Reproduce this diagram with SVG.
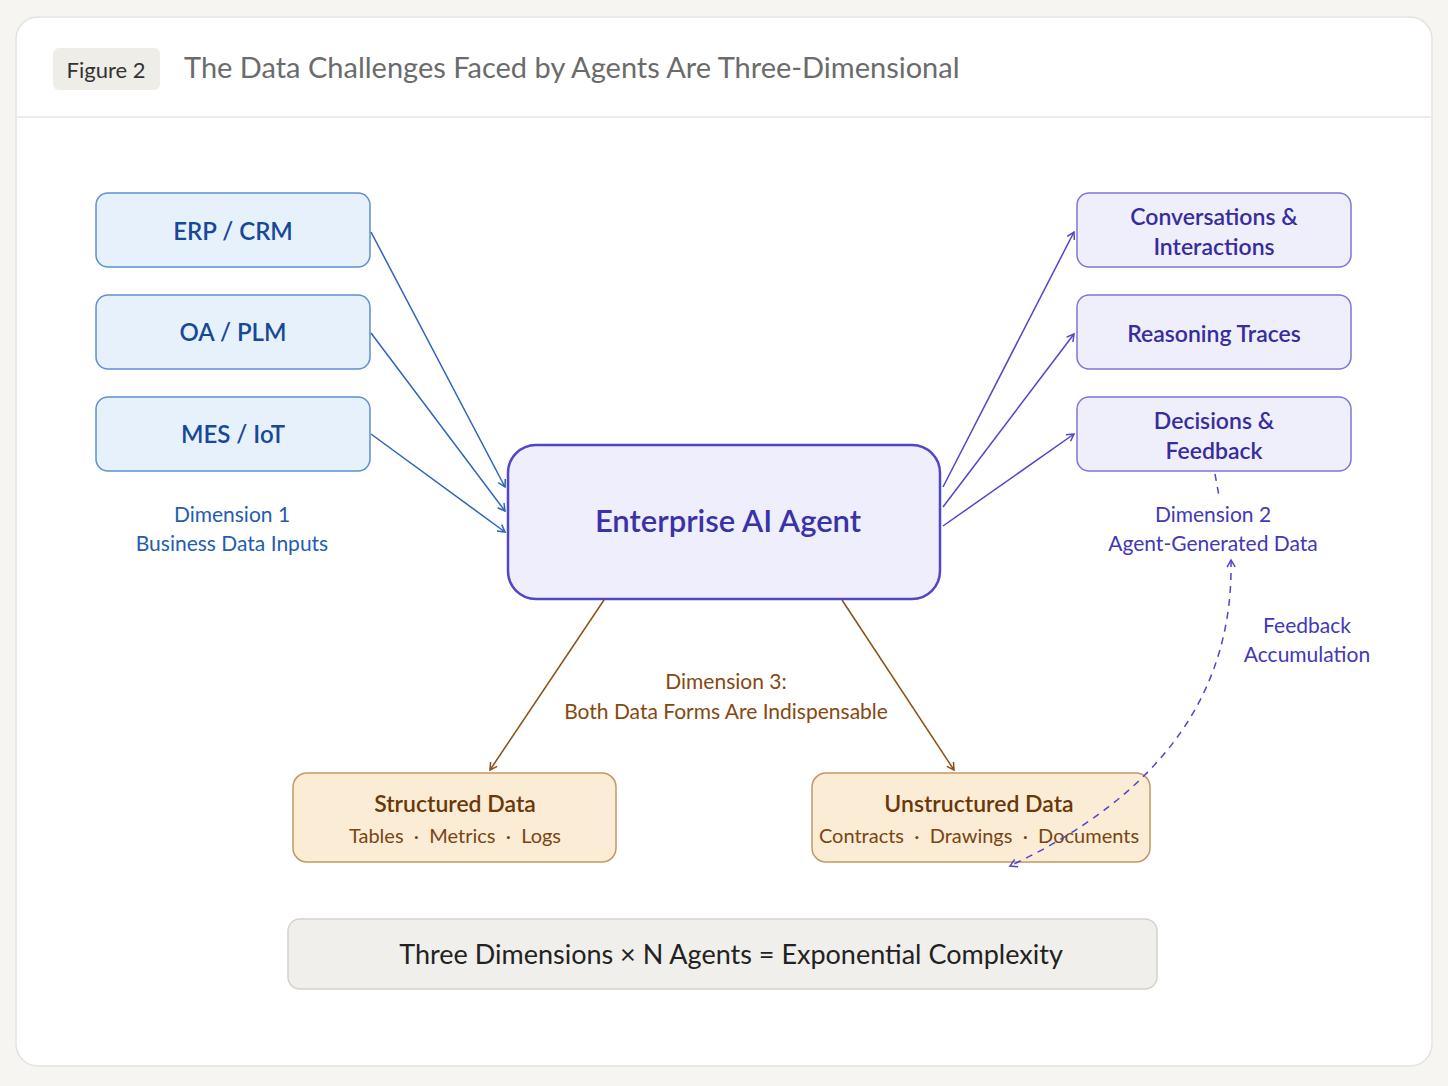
<svg xmlns="http://www.w3.org/2000/svg" width="1448" height="1086" viewBox="0 0 1448 1086">
<defs>
<style>
text{font-family:Lato,"Open Sans","Liberation Sans",sans-serif;text-anchor:middle}
.lbox{fill:#e7f1fb;stroke:#5d8fd4;stroke-width:1.5}
.rbox{fill:#efeefb;stroke:#7d76d8;stroke-width:1.5}
.obox{fill:#fbecd6;stroke:#c39866;stroke-width:1.5}
.lt{fill:#17489a;font-size:24px;font-weight:600}
.rt{fill:#372d9e;font-size:23px;font-weight:600}
.d1{fill:#1f5db0;font-size:21px}
.d2{fill:#4238b8;font-size:21px}
.d3{fill:#864810;font-size:21px}
.sub{font-size:20px;fill:#7a4512;white-space:pre}
.blue{stroke:#2d63b8;stroke-width:1.5;fill:none}
.purp{stroke:#5046c8;stroke-width:1.5;fill:none}
.brown{stroke:#8a5016;stroke-width:1.5;fill:none}
</style>
<marker id="ab" markerWidth="12" markerHeight="12" refX="9" refY="6" orient="auto" markerUnits="userSpaceOnUse"><path d="M2,2 L9,6 L2,10" fill="none" stroke="#2d63b8" stroke-width="1.5"/></marker>
<marker id="ap" markerWidth="12" markerHeight="12" refX="9" refY="6" orient="auto-start-reverse" markerUnits="userSpaceOnUse"><path d="M2,2 L9,6 L2,10" fill="none" stroke="#5046c8" stroke-width="1.5"/></marker>
<marker id="ao" markerWidth="12" markerHeight="12" refX="9" refY="6" orient="auto" markerUnits="userSpaceOnUse"><path d="M2,2 L9,6 L2,10" fill="none" stroke="#8a5016" stroke-width="1.5"/></marker>
</defs>
<rect x="0" y="0" width="1448" height="1086" fill="#f6f5f2"/>
<rect x="16" y="17" width="1416" height="1049" rx="22" fill="#ffffff" stroke="#e5e3de" stroke-width="1.5"/>
<line x1="17" y1="117" x2="1431" y2="117" stroke="#e8e6e1" stroke-width="1.5"/>
<g id="header">
<rect x="53" y="48" width="107" height="42" rx="6" fill="#efede8"/>
<text x="106" y="78" style="font-size:22px;fill:#333333">Figure 2</text>
<text x="184" y="78" style="font-size:29px;fill:#6b6b6b;text-anchor:start">The Data Challenges Faced by Agents Are Three-Dimensional</text>
</g>
<g id="erp"><rect class="lbox" x="96" y="193" width="274" height="74" rx="12"/><text class="lt" x="233" y="240">ERP / CRM</text></g>
<g id="oa"><rect class="lbox" x="96" y="295" width="274" height="74" rx="12"/><text class="lt" x="233" y="341">OA / PLM</text></g>
<g id="mes"><rect class="lbox" x="96" y="397" width="274" height="74" rx="12"/><text class="lt" x="233" y="443">MES / IoT</text></g>
<g id="dim1"><text class="d1" x="232" y="522">Dimension 1</text><text class="d1" x="232" y="551">Business Data Inputs</text></g>
<g id="agent"><rect x="508" y="445" width="432" height="154" rx="28" fill="#eeeefc" stroke="#5046c8" stroke-width="2.5"/><text x="728" y="532" style="font-size:31px;fill:#3a32a8;font-weight:600">Enterprise AI Agent</text></g>
<g id="conv"><rect class="rbox" x="1077" y="193" width="274" height="74" rx="12"/><text class="rt" x="1214" y="225">Conversations &amp;</text><text class="rt" x="1214" y="255">Interactions</text></g>
<g id="reason"><rect class="rbox" x="1077" y="295" width="274" height="74" rx="12"/><text class="rt" x="1214" y="342">Reasoning Traces</text></g>
<g id="decis"><rect class="rbox" x="1077" y="397" width="274" height="74" rx="12"/><text class="rt" x="1214" y="429">Decisions &amp;</text><text class="rt" x="1214" y="459">Feedback</text></g>
<g id="dim2"><text class="d2" x="1213" y="522">Dimension 2</text><text class="d2" x="1213" y="551">Agent-Generated Data</text></g>
<g id="feedback"><text class="d2" x="1307" y="633">Feedback</text><text class="d2" x="1307" y="662">Accumulation</text></g>
<g id="dim3"><text class="d3" x="726" y="689">Dimension 3:</text><text class="d3" x="726" y="719">Both Data Forms Are Indispensable</text></g>
<g id="structured"><rect class="obox" x="293" y="773" width="323" height="89" rx="14"/><text x="455" y="812" style="font-size:23px;fill:#6a3808;font-weight:600">Structured Data</text><text class="sub" x="455" y="843">Tables  ·  Metrics  ·  Logs</text></g>
<g id="unstructured"><rect class="obox" x="812" y="773" width="338" height="89" rx="14"/><text x="979" y="812" style="font-size:23px;fill:#6a3808;font-weight:600">Unstructured Data</text><text class="sub" x="979" y="843">Contracts  ·  Drawings  ·  Documents</text></g>
<g id="banner"><rect x="288" y="919" width="869" height="70" rx="12" fill="#f1efeb" stroke="#d5d2cb" stroke-width="1.5"/><text x="731" y="964" style="font-size:27px;fill:#222222">Three Dimensions × N Agents = Exponential Complexity</text></g>
<g id="connectors">
<line class="blue" x1="371" y1="232" x2="505" y2="487" marker-end="url(#ab)"/>
<line class="blue" x1="371" y1="333" x2="505" y2="511" marker-end="url(#ab)"/>
<line class="blue" x1="371" y1="434" x2="505" y2="532" marker-end="url(#ab)"/>
<line class="purp" x1="943" y1="487" x2="1074" y2="232" marker-end="url(#ap)"/>
<line class="purp" x1="943" y1="507" x2="1074" y2="334" marker-end="url(#ap)"/>
<line class="purp" x1="943" y1="526" x2="1074" y2="434" marker-end="url(#ap)"/>
<line class="brown" x1="604" y1="600" x2="490" y2="770" marker-end="url(#ao)"/>
<line class="brown" x1="842" y1="600" x2="954" y2="770" marker-end="url(#ao)"/>
<line class="purp" x1="1215" y1="474" x2="1219" y2="496" stroke-dasharray="7 6"/>
<path class="purp" d="M1231,560 Q1235,760 1010,866" stroke-dasharray="7 6" marker-start="url(#ap)" marker-end="url(#ap)"/>
</g>
</svg>
